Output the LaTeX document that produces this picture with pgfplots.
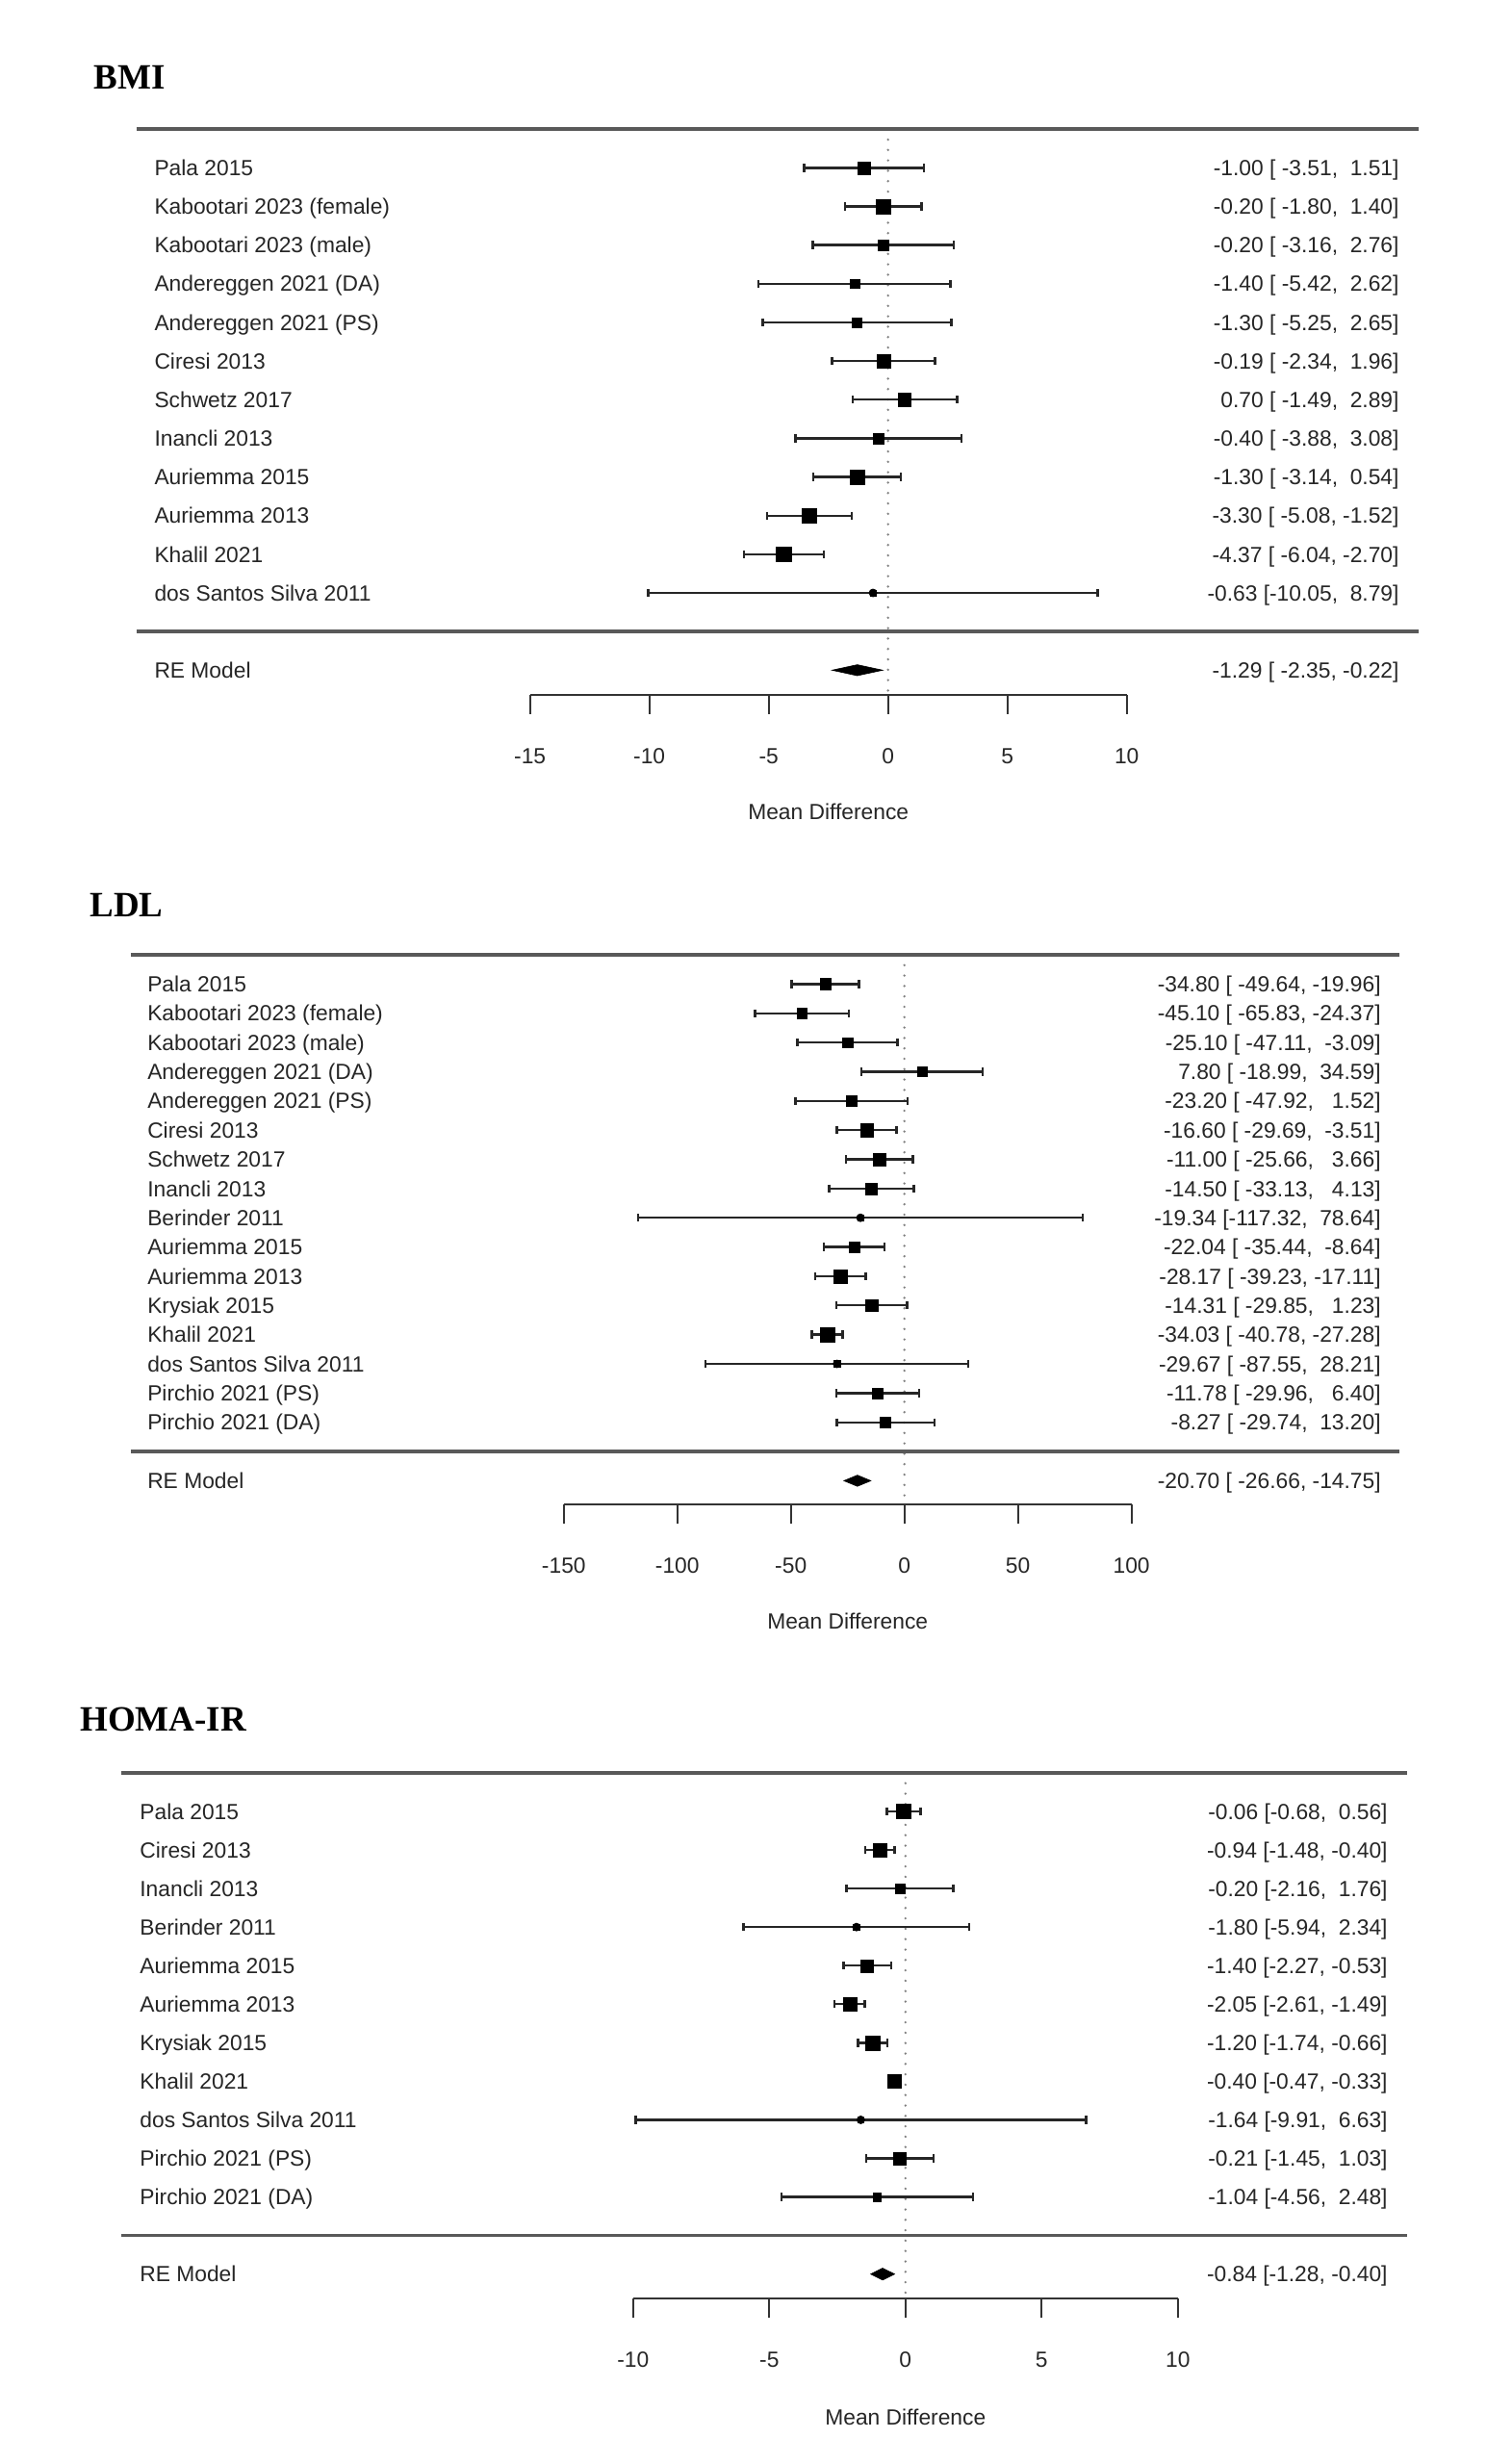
\documentclass[border=0pt]{standalone}
\usepackage{fontspec}
\setmainfont{Liberation Sans}
\newfontfamily\titlefont{Liberation Serif}
\usepackage{pgfplots}
\usepackage{pgfplotstable}
\pgfplotsset{compat=1.18}

% row est lo hi marksize(pt)
\pgfplotstableread{
row est lo hi ms
12 -1.00 -3.51 1.51 3.2
11 -0.20 -1.80 1.40 3.75
10 -0.20 -3.16 2.76 2.75
9 -1.40 -5.42 2.62 2.4
8 -1.30 -5.25 2.65 2.5
7 -0.19 -2.34 1.96 3.6
6 0.70 -1.49 2.89 3.3
5 -0.40 -3.88 3.08 2.75
4 -1.30 -3.14 0.54 3.8
3 -3.30 -5.08 -1.52 3.8
2 -4.37 -6.04 -2.70 3.9
1 -0.63 -10.05 8.79 1.65
}\bmi

\pgfplotstableread{
row est lo hi ms
16 -34.80 -49.64 -19.96 2.9
15 -45.10 -65.83 -24.37 2.67
14 -25.10 -47.11 -3.09 2.67
13 7.80 -18.99 34.59 2.5
12 -23.20 -47.92 1.52 2.67
11 -16.60 -29.69 -3.51 3.4
10 -11.00 -25.66 3.66 3.25
9 -14.50 -33.13 4.13 3.0
8 -19.34 -117.32 78.64 1.4
7 -22.04 -35.44 -8.64 2.9
6 -28.17 -39.23 -17.11 3.6
5 -14.31 -29.85 1.23 3.2
4 -34.03 -40.78 -27.28 3.8
3 -29.67 -87.55 28.21 1.8
2 -11.78 -29.96 6.40 2.8
1 -8.27 -29.74 13.20 2.75
}\ldl

\pgfplotstableread{
row est lo hi ms
11 -0.06 -0.68 0.56 3.75
10 -0.94 -1.48 -0.40 3.6
9 -0.20 -2.16 1.76 2.4
8 -1.80 -5.94 2.34 1.6
7 -1.40 -2.27 -0.53 3.25
6 -2.05 -2.61 -1.49 3.5
5 -1.20 -1.74 -0.66 3.8
4 -0.40 -0.47 -0.33 3.6
3 -1.64 -9.91 6.63 1.35
2 -0.21 -1.45 1.03 3.25
1 -1.04 -4.56 2.48 2.1
}\homa

\tikzset{
  rule/.style={black!65, line width=1.8pt},
  lab/.style={anchor=west, text height=8.16pt, text depth=0pt, inner sep=0pt, black!85},
  val/.style={anchor=east, text height=8.16pt, text depth=0pt, inner sep=0pt, black!85},
  zero/.style={black!50, line width=1.3pt, dash pattern=on 0pt off 5.4pt, line cap=round},
}
\pgfplotsset{
  forest/.style={
    scale only axis, clip=false,
    axis x line*=bottom, axis y line=none,
    x axis line style={-, black!80, line width=1.1pt},
    major tick style={black!80, line width=1.1pt},
    tick align=outside, major tick length=9.85pt,
    ytick=\empty,
    xticklabel style={text height=8.16pt, text depth=0pt, inner sep=0pt, anchor=center, yshift=-21.8pt, black!85},
    xlabel={Mean Difference},
    xlabel style={at={(axis description cs:0.5,0)}, anchor=center, text height=8.16pt, text depth=0pt, inner sep=0pt, yshift=-60.9pt, black!85},
  },
  cis/.style={only marks, mark=none,
    error bars/.cd, x dir=both, x explicit, error mark=none,
    error bar style={line width=1.2pt, black!85}},
  caps/.style={only marks, mark=|, mark size=2.1pt, mark options={line width=1.2pt, black!85}},
  boxes/.style={scatter, only marks, mark=square*,
    scatter/use mapped color={draw=black, fill=black},
    mark options={line width=0.2pt},
    visualization depends on={\thisrow{ms} \as \msz},
    scatter/@pre marker code/.append style={/tikz/mark size=\msz pt}},
}

\begin{document}
\fontsize{11.4}{13}\selectfont
\begin{tikzpicture}
\fill[white] (0,0) rectangle (785pt,-1280pt);
\useasboundingbox (0,0) rectangle (785pt,-1280pt);

% ---------------- BMI ----------------
\node[anchor=base west, inner sep=0pt] at (48.5pt,-46.45pt) {\titlefont\bfseries\fontsize{18.5}{20}\selectfont BMI};
\begin{axis}[forest, at={(275.35pt,-361pt)}, anchor=south west,
  width=310pt, height=293.9pt,
  xmin=-15, xmax=10, ymin=-1.64, ymax=13,
  xtick={-15,-10,-5,0,5,10}, xticklabels={-15,-10,-5,0,5,10}]
\addplot[zero] coordinates {(0,13) (0,-1.64)};
\draw[rule] (axis cs:-31.48,13) -- (axis cs:22.23,13);
\draw[rule] (axis cs:-31.48,0) -- (axis cs:22.23,0);
\addplot[cis] table[x=est, y=row, x error plus expr=\thisrow{hi}-\thisrow{est}, x error minus expr=\thisrow{est}-\thisrow{lo}] {\bmi};
\addplot[caps] table[x=lo, y=row] {\bmi};
\addplot[caps] table[x=hi, y=row] {\bmi};
\addplot[boxes] table[x=est, y=row] {\bmi};
\addplot[fill=black, draw=black, line width=0.3pt] coordinates {(-2.35,-1) (-1.29,-0.858) (-0.22,-1) (-1.29,-1.142)} -- cycle;
\node[lab] at (axis cs:-30.75,12) {Pala 2015};
\node[lab] at (axis cs:-30.75,11) {Kabootari 2023 (female)};
\node[lab] at (axis cs:-30.75,10) {Kabootari 2023 (male)};
\node[lab] at (axis cs:-30.75,9) {Andereggen 2021 (DA)};
\node[lab] at (axis cs:-30.75,8) {Andereggen 2021 (PS)};
\node[lab] at (axis cs:-30.75,7) {Ciresi 2013};
\node[lab] at (axis cs:-30.75,6) {Schwetz 2017};
\node[lab] at (axis cs:-30.75,5) {Inancli 2013};
\node[lab] at (axis cs:-30.75,4) {Auriemma 2015};
\node[lab] at (axis cs:-30.75,3) {Auriemma 2013};
\node[lab] at (axis cs:-30.75,2) {Khalil 2021};
\node[lab] at (axis cs:-30.75,1) {dos Santos Silva 2011};
\node[lab] at (axis cs:-30.75,-1) {RE Model};
\node[val] at (axis cs:21.42,12) {-1.00 [ -3.51, \ 1.51]};
\node[val] at (axis cs:21.42,11) {-0.20 [ -1.80, \ 1.40]};
\node[val] at (axis cs:21.42,10) {-0.20 [ -3.16, \ 2.76]};
\node[val] at (axis cs:21.42,9) {-1.40 [ -5.42, \ 2.62]};
\node[val] at (axis cs:21.42,8) {-1.30 [ -5.25, \ 2.65]};
\node[val] at (axis cs:21.42,7) {-0.19 [ -2.34, \ 1.96]};
\node[val] at (axis cs:21.42,6) {0.70 [ -1.49, \ 2.89]};
\node[val] at (axis cs:21.42,5) {-0.40 [ -3.88, \ 3.08]};
\node[val] at (axis cs:21.42,4) {-1.30 [ -3.14, \ 0.54]};
\node[val] at (axis cs:21.42,3) {-3.30 [ -5.08, -1.52]};
\node[val] at (axis cs:21.42,2) {-4.37 [ -6.04, -2.70]};
\node[val] at (axis cs:21.42,1) {-0.63 [-10.05, \ 8.79]};
\node[val] at (axis cs:21.42,-1) {-1.29 [ -2.35, -0.22]};
\end{axis}

% ---------------- LDL ----------------
\node[anchor=base west, inner sep=0pt] at (46.5pt,-476.05pt) {\titlefont\bfseries\fontsize{18.5}{20}\selectfont LDL};
\begin{axis}[forest, at={(292.9pt,-781.65pt)}, anchor=south west,
  width=294.9pt, height=285.65pt,
  xmin=-150, xmax=100, ymin=-1.82, ymax=17,
  xtick={-150,-100,-50,0,50,100}, xticklabels={-150,-100,-50,0,50,100},
  xlabel style={yshift=0.45pt}]
\addplot[zero] coordinates {(0,17) (0,-1.82)};
\draw[rule] (axis cs:-340.7,17) -- (axis cs:218.0,17);
\draw[rule] (axis cs:-340.7,0) -- (axis cs:218.0,0);
\addplot[cis] table[x=est, y=row, x error plus expr=\thisrow{hi}-\thisrow{est}, x error minus expr=\thisrow{est}-\thisrow{lo}] {\ldl};
\addplot[caps] table[x=lo, y=row] {\ldl};
\addplot[caps] table[x=hi, y=row] {\ldl};
\addplot[boxes] table[x=est, y=row] {\ldl};
\addplot[fill=black, draw=black, line width=0.3pt] coordinates {(-26.66,-1) (-20.70,-0.809) (-14.75,-1) (-20.70,-1.191)} -- cycle;
\node[lab] at (axis cs:-333.5,16) {Pala 2015};
\node[lab] at (axis cs:-333.5,15) {Kabootari 2023 (female)};
\node[lab] at (axis cs:-333.5,14) {Kabootari 2023 (male)};
\node[lab] at (axis cs:-333.5,13) {Andereggen 2021 (DA)};
\node[lab] at (axis cs:-333.5,12) {Andereggen 2021 (PS)};
\node[lab] at (axis cs:-333.5,11) {Ciresi 2013};
\node[lab] at (axis cs:-333.5,10) {Schwetz 2017};
\node[lab] at (axis cs:-333.5,9) {Inancli 2013};
\node[lab] at (axis cs:-333.5,8) {Berinder 2011};
\node[lab] at (axis cs:-333.5,7) {Auriemma 2015};
\node[lab] at (axis cs:-333.5,6) {Auriemma 2013};
\node[lab] at (axis cs:-333.5,5) {Krysiak 2015};
\node[lab] at (axis cs:-333.5,4) {Khalil 2021};
\node[lab] at (axis cs:-333.5,3) {dos Santos Silva 2011};
\node[lab] at (axis cs:-333.5,2) {Pirchio 2021 (PS)};
\node[lab] at (axis cs:-333.5,1) {Pirchio 2021 (DA)};
\node[lab] at (axis cs:-333.5,-1) {RE Model};
\node[val] at (axis cs:210.0,16) {-34.80 [ -49.64, -19.96]};
\node[val] at (axis cs:210.0,15) {-45.10 [ -65.83, -24.37]};
\node[val] at (axis cs:210.0,14) {-25.10 [ -47.11, \ -3.09]};
\node[val] at (axis cs:210.0,13) {7.80 [ -18.99, \ 34.59]};
\node[val] at (axis cs:210.0,12) {-23.20 [ -47.92, \ \ 1.52]};
\node[val] at (axis cs:210.0,11) {-16.60 [ -29.69, \ -3.51]};
\node[val] at (axis cs:210.0,10) {-11.00 [ -25.66, \ \ 3.66]};
\node[val] at (axis cs:210.0,9) {-14.50 [ -33.13, \ \ 4.13]};
\node[val] at (axis cs:210.0,8) {-19.34 [-117.32, \ 78.64]};
\node[val] at (axis cs:210.0,7) {-22.04 [ -35.44, \ -8.64]};
\node[val] at (axis cs:210.0,6) {-28.17 [ -39.23, -17.11]};
\node[val] at (axis cs:210.0,5) {-14.31 [ -29.85, \ \ 1.23]};
\node[val] at (axis cs:210.0,4) {-34.03 [ -40.78, -27.28]};
\node[val] at (axis cs:210.0,3) {-29.67 [ -87.55, \ 28.21]};
\node[val] at (axis cs:210.0,2) {-11.78 [ -29.96, \ \ 6.40]};
\node[val] at (axis cs:210.0,1) {-8.27 [ -29.74, \ 13.20]};
\node[val] at (axis cs:210.0,-1) {-20.70 [ -26.66, -14.75]};
\end{axis}

% ---------------- HOMA-IR ----------------
\node[anchor=base west, inner sep=0pt] at (41.5pt,-899.05pt) {\titlefont\bfseries\fontsize{18.5}{20}\selectfont HOMA-IR};
\begin{axis}[forest, at={(328.9pt,-1194.15pt)}, anchor=south west,
  width=283pt, height=273.2pt,
  xmin=-10, xmax=10, ymin=-1.64, ymax=12,
  xtick={-10,-5,0,5,10}, xticklabels={-10,-5,0,5,10},
  xlabel style={yshift=-0.65pt}]
\addplot[zero] coordinates {(0,12) (0,-1.64)};
\draw[rule] (axis cs:-28.79,12) -- (axis cs:18.41,12);
\draw[rule] (axis cs:-28.79,0) -- (axis cs:18.41,0);
\addplot[cis] table[x=est, y=row, x error plus expr=\thisrow{hi}-\thisrow{est}, x error minus expr=\thisrow{est}-\thisrow{lo}] {\homa};
\addplot[caps] table[x=lo, y=row] {\homa};
\addplot[caps] table[x=hi, y=row] {\homa};
\addplot[boxes] table[x=est, y=row] {\homa};
\addplot[fill=black, draw=black, line width=0.3pt] coordinates {(-1.28,-1) (-0.84,-0.845) (-0.40,-1) (-0.84,-1.155)} -- cycle;
\node[lab] at (axis cs:-28.12,11) {Pala 2015};
\node[lab] at (axis cs:-28.12,10) {Ciresi 2013};
\node[lab] at (axis cs:-28.12,9) {Inancli 2013};
\node[lab] at (axis cs:-28.12,8) {Berinder 2011};
\node[lab] at (axis cs:-28.12,7) {Auriemma 2015};
\node[lab] at (axis cs:-28.12,6) {Auriemma 2013};
\node[lab] at (axis cs:-28.12,5) {Krysiak 2015};
\node[lab] at (axis cs:-28.12,4) {Khalil 2021};
\node[lab] at (axis cs:-28.12,3) {dos Santos Silva 2011};
\node[lab] at (axis cs:-28.12,2) {Pirchio 2021 (PS)};
\node[lab] at (axis cs:-28.12,1) {Pirchio 2021 (DA)};
\node[lab] at (axis cs:-28.12,-1) {RE Model};
\node[val] at (axis cs:17.71,11) {-0.06 [-0.68, \ 0.56]};
\node[val] at (axis cs:17.71,10) {-0.94 [-1.48, -0.40]};
\node[val] at (axis cs:17.71,9) {-0.20 [-2.16, \ 1.76]};
\node[val] at (axis cs:17.71,8) {-1.80 [-5.94, \ 2.34]};
\node[val] at (axis cs:17.71,7) {-1.40 [-2.27, -0.53]};
\node[val] at (axis cs:17.71,6) {-2.05 [-2.61, -1.49]};
\node[val] at (axis cs:17.71,5) {-1.20 [-1.74, -0.66]};
\node[val] at (axis cs:17.71,4) {-0.40 [-0.47, -0.33]};
\node[val] at (axis cs:17.71,3) {-1.64 [-9.91, \ 6.63]};
\node[val] at (axis cs:17.71,2) {-0.21 [-1.45, \ 1.03]};
\node[val] at (axis cs:17.71,1) {-1.04 [-4.56, \ 2.48]};
\node[val] at (axis cs:17.71,-1) {-0.84 [-1.28, -0.40]};
\end{axis}
\end{tikzpicture}
\end{document}
